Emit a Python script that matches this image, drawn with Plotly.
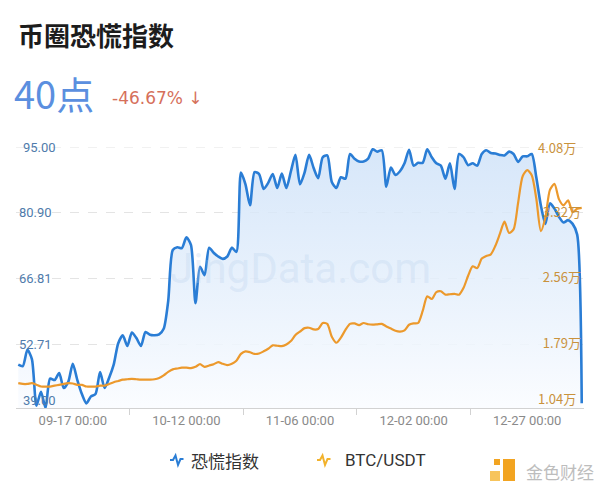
import plotly.graph_objects as go

# ---------------- data ----------------
tick_labels = ["09-17 00:00", "10-12 00:00", "11-06 00:00", "12-02 00:00", "12-27 00:00"]
tick_index = [12, 37, 62, 87, 112]
tick_bounds = [-0.5, 24.5, 49.5, 74.5, 99.5, 124.5]

fear_index = [48.3, 48.0, 51.5, 49.5, 39.5, 42.5, 39.0, 45.3, 45.0, 46.5,
              43.3, 44.6, 48.5, 45.0, 42.0, 40.0, 41.5, 42.0, 46.7, 43.3,
              45.5, 48.3, 52.9, 54.6, 52.3, 55.2, 54.0, 52.3, 55.3, 54.7,
              54.6, 54.8, 56.0, 62.0, 72.9, 73.5, 73.3, 75.6, 74.0, 61.5,
              69.3, 67.5, 73.4, 72.3, 71.5, 71.0, 71.5, 73.4, 72.5, 89.5,
              87.0, 82.5, 89.6, 89.2, 86.0, 87.3, 89.2, 86.2, 89.3, 86.2,
              89.8, 93.3, 87.0, 89.5, 93.3, 90.5, 88.3, 92.8, 93.2, 87.5,
              86.2, 88.5, 88.2, 93.5, 92.5, 91.9, 91.9, 92.5, 94.5, 94.0,
              94.3, 86.5, 90.6, 89.0, 89.8, 91.5, 94.4, 91.0, 91.6, 91.6,
              94.5, 92.8, 91.5, 91.0, 88.2, 91.5, 86.0, 93.5, 92.8, 91.1,
              91.5, 91.0, 93.5, 94.3, 93.7, 93.6, 93.3, 93.2, 94.0, 93.5,
              91.8, 93.0, 93.0, 93.5, 88.5, 82.5, 78.5, 82.9, 81.8, 80.0,
              78.8, 79.3, 78.5, 76.2, 40.0]

btc_usdt = [13300, 13200, 13200, 13300, 13100, 12900, 12900, 12900, 13000, 13100,
            13200, 13300, 13250, 13100, 13100, 12900, 12900, 12900, 13000, 13000,
            13200, 13400, 13550, 13700, 13750, 13800, 13750, 13700, 13700, 13700,
            13750, 13900, 14200, 14600, 14900, 15000, 15100, 15100, 15050, 15200,
            15500, 15200, 15350, 15500, 15750, 15550, 15400, 15550, 15900, 16700,
            17000, 16900, 16700, 16750, 17000, 17300, 17700, 17650, 17600, 17800,
            18200, 18900, 19300, 19700, 19750, 19550, 19600, 20300, 20200, 18700,
            18000, 18600, 19500, 20200, 20250, 20050, 20300, 20150, 20100, 20150,
            20200, 19900, 19650, 19400, 19300, 19450, 20100, 20250, 20300, 21700,
            23400, 23100, 23900, 24000, 23600, 23650, 23700, 23600, 24400, 25800,
            26900, 26700, 27800, 28100, 28300, 29300, 30700, 32100, 30800, 31200,
            34300, 37400, 38100, 37500, 34800, 31000, 32600, 35800, 36500, 34700,
            34000, 34600, 33200, 33600, 33700]

left_ticks = [95.00, 80.90, 66.81, 52.71]
left_labels = ["95.00", "80.90", "66.81", "52.71"]
left_min, left_min_label = 39.0, "39.00"
right_ticks = [40800, 33200, 25600, 17900]
right_labels = ["4.08万", "3.32万", "2.56万", "1.79万"]
right_min, right_min_label = 10400, "1.04万"

series_names = ["恐慌指数", "BTC/USDT"]
series_colors = ["#2a7dd5", "#ec992c"]

# ---------------- layout helpers ----------------
W, H = 600, 490
ML, MR, MT, MB = 16, 16, 147, 82
PW, PH = W - ML - MR, H - MT - MB


def px(x):
    return (x - ML) / PW


def py(y):
    return (H - MB - y) / PH


CJK = "Noto Sans CJK SC"
LABEL_BLUE = "#4f7bab"
LABEL_ORANGE = "#c9923c"
x_vals = list(range(len(fear_index)))

fig = go.Figure()
fig.add_trace(go.Scatter(
    x=x_vals, y=fear_index, name=series_names[0], mode="lines",
    line=dict(color=series_colors[0], width=2.6, shape="spline", smoothing=0.7),
    fill="tozeroy",
    fillgradient=dict(type="vertical",
                      colorscale=[[0, "rgba(250,252,255,0.9)"], [1, "rgba(205,225,248,0.8)"]],
                      start=left_min, stop=left_ticks[0]),
    yaxis="y", hoverinfo="skip", showlegend=False))
fig.add_trace(go.Scatter(
    x=x_vals, y=btc_usdt, name=series_names[1], mode="lines",
    line=dict(color=series_colors[1], width=2.2, shape="spline", smoothing=0.7),
    yaxis="y2", hoverinfo="skip", showlegend=False))

annotations = [
    dict(x=px(16), y=py(35), text="<b>币圈恐慌指数</b>", xanchor="left", yanchor="middle",
         font=dict(family=CJK, size=26, color="#1c1c1c")),
    dict(x=px(12), y=py(92), text="40点", xanchor="left", yanchor="middle",
         font=dict(family=CJK, size=38, color="#5b8fdf")),
    dict(x=px(110), y=py(98), text="-46.67% ↓", xanchor="left", yanchor="middle",
         font=dict(family="DejaVu Sans", size=17, color="#d6705b")),
    # extreme axis labels (kept inside the plot like the reference)
    dict(x=px(21), y=left_ticks[0], yref="y", text=left_labels[0], xanchor="left", yanchor="middle",
         font=dict(family="Roboto", size=13, color=LABEL_BLUE)),
    dict(x=px(21), y=left_min, yref="y", text=left_min_label, xanchor="left", yanchor="bottom",
         yshift=-2, font=dict(family="Roboto", size=13, color=LABEL_BLUE)),
    dict(x=px(578), y=right_ticks[0], yref="y2", text=right_labels[0], xanchor="right", yanchor="middle",
         font=dict(family=CJK, size=13, color=LABEL_ORANGE)),
    dict(x=px(578), y=right_min, yref="y2", text=right_min_label, xanchor="right", yanchor="bottom",
         yshift=-2, font=dict(family=CJK, size=13, color=LABEL_ORANGE)),
    # watermark
    dict(x=px(300), y=py(268), text="JingData.com", xanchor="center", yanchor="middle",
         font=dict(family="Roboto", size=42, color="rgba(185,208,236,0.30)")),
    # legend texts
    dict(x=px(189), y=py(460), text=series_names[0], xanchor="left", yanchor="middle",
         font=dict(family=CJK, size=17, color="#333333")),
    dict(x=px(343), y=py(460), text=series_names[1], xanchor="left", yanchor="middle",
         font=dict(family="Roboto", size=17, color="#333333")),
    # logo text
    dict(x=px(524), y=py(471), text="金色财经", xanchor="left", yanchor="middle",
         font=dict(family=CJK, size=17, color="#bdbdbd")),
]
for a in annotations:
    a.setdefault("xref", "paper")
    a.setdefault("yref", "paper")
    a["showarrow"] = False


def zigzag(x0, yc):
    pts = [(x0, yc), (x0 + 3, yc), (x0 + 5.5, yc - 4.5), (x0 + 8, yc + 5), (x0 + 10.5, yc - 1),
           (x0 + 13.5, yc - 1)]
    return "M " + " L ".join(f"{px(a):.5f},{py(b):.5f}" for a, b in pts)


shapes = [
    # top dashed gridline
    dict(type="line", xref="paper", yref="y", x0=0, x1=1, y0=left_ticks[0], y1=left_ticks[0],
         line=dict(color="#e4e4e4", width=1, dash="dash"), layer="below"),
    # legend icons
    dict(type="path", path=zigzag(170, 460), line=dict(color=series_colors[0], width=2)),
    dict(type="path", path=zigzag(317, 460), line=dict(color="#f2b22c", width=2)),
    # logo icon
    dict(type="rect", x0=px(503), x1=px(515), y0=py(459), y1=py(481),
         fillcolor="#f2a421", line=dict(width=0)),
    dict(type="rect", x0=px(490), x1=px(500), y0=py(471), y1=py(481),
         fillcolor="#f7c45c", line=dict(width=0)),
    dict(type="rect", x0=px(494), x1=px(500), y0=py(459), y1=py(465),
         fillcolor="#f2a421", line=dict(width=0)),
]
for s in shapes:
    s.setdefault("xref", "paper")
    s.setdefault("yref", "paper")
    s.setdefault("layer", "above")

fig.update_layout(
    width=W, height=H,
    margin=dict(l=ML, r=MR, t=MT, b=MB),
    paper_bgcolor="white", plot_bgcolor="white",
    showlegend=False,
    xaxis=dict(range=[-0.5, len(fear_index) - 0.5], tickmode="array", tickvals=tick_index,
               ticktext=tick_labels, ticks="", showgrid=False, zeroline=False,
               showline=True, linecolor="#d2d2d2", linewidth=1,
               tickfont=dict(family="Roboto", size=13, color="#8a8a8a"),
               minor=dict(tickmode="array", tickvals=tick_bounds, ticks="outside",
                          ticklen=6, tickcolor="#d2d2d2", showgrid=False)),
    yaxis=dict(range=[left_min, left_ticks[0]], tickmode="array", tickvals=left_ticks[1:],
               ticktext=left_labels[1:], ticklabelposition="inside", ticks="", showgrid=True,
               gridcolor="#e4e4e4", griddash="dash", gridwidth=1, zeroline=False, showline=False,
               tickfont=dict(family="Roboto", size=13, color=LABEL_BLUE)),
    yaxis2=dict(range=[right_min, right_ticks[0]], overlaying="y", side="right", tickmode="array",
                tickvals=right_ticks[1:], ticktext=right_labels[1:], ticklabelposition="inside",
                ticks="", showgrid=False, zeroline=False, showline=False,
                tickfont=dict(family=CJK, size=13, color=LABEL_ORANGE)),
    annotations=annotations,
    shapes=shapes,
)

fig.write_html("out.html", config={"displayModeBar": False},
               post_script="document.body.style.margin='0';")
